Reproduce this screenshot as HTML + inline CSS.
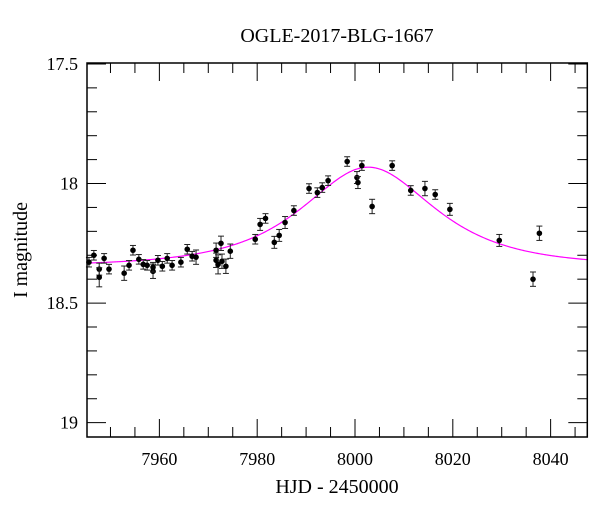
<!DOCTYPE html>
<html><head><meta charset="utf-8"><style>
html,body{margin:0;padding:0;background:#fff;}
svg{display:block;font-family:"Liberation Serif",serif;}
</style></head><body>
<svg id="chart" width="600" height="512" viewBox="0 0 600 512" xmlns="http://www.w3.org/2000/svg">
<text x="337" y="42" font-size="20" text-anchor="middle">OGLE-2017-BLG-1667</text>
<text x="337" y="493" font-size="20" text-anchor="middle">HJD - 2450000</text>
<text transform="translate(27,250) rotate(-90)" font-size="20" text-anchor="middle">I magnitude</text>
<g id="ticks"></g>
<g id="curve"></g>
<g id="points"></g>
<rect x="87" y="63" width="500.3" height="374" fill="none" stroke="#000" stroke-width="1.5"/>
</svg>
<script>
const hjd = [7945.6,7946.6,7947.7,7947.7,7948.7,7949.7,7952.8,7953.8,7954.6,7955.8,7956.7,7957.5,7958.7,7958.7,7959.7,7960.6,7961.6,7962.6,7964.4,7965.7,7966.7,7967.5,7971.6,7971.6,7972.0,7972.6,7972.8,7973.6,7974.5,7979.6,7980.6,7981.7,7983.5,7984.5,7985.7,7987.5,7990.6,7992.3,7993.3,7994.5,7998.4,8000.4,8000.6,8001.4,8003.5,8007.6,8011.4,8014.3,8016.4,8019.4,8029.5,8036.4,8037.7];
const mags = [18.329,18.300,18.358,18.392,18.313,18.358,18.375,18.342,18.279,18.317,18.338,18.342,18.367,18.350,18.321,18.346,18.313,18.342,18.329,18.275,18.304,18.308,18.279,18.321,18.338,18.250,18.325,18.346,18.283,18.233,18.171,18.146,18.246,18.217,18.163,18.113,18.021,18.038,18.017,17.988,17.908,17.975,17.996,17.925,18.096,17.925,18.029,18.021,18.046,18.108,18.238,18.400,18.208];
const errs = [0.02,0.02,0.025,0.04,0.02,0.02,0.03,0.02,0.02,0.02,0.02,0.02,0.03,0.02,0.02,0.02,0.02,0.02,0.02,0.02,0.02,0.03,0.03,0.03,0.04,0.03,0.03,0.03,0.03,0.02,0.025,0.02,0.025,0.025,0.025,0.02,0.02,0.02,0.02,0.02,0.02,0.025,0.025,0.02,0.03,0.02,0.02,0.03,0.02,0.025,0.025,0.03,0.03];
const xTickLabels = ["7960","7980","8000","8020","8040"];
const yTickLabels = ["17.5","18","18.5","19"];
const modelT0 = 8002.7, modelTE = 17.7, modelU0 = 0.86, modelBase = 18.345;

const X0=87, X1=587.3, Y0=63, Y1=437;
const xMin=7945.2, xMax=8047.5, yMin=17.496, yMax=19.06;
const xs = d => X0 + (d-xMin)/(xMax-xMin)*(X1-X0);
const ys = m => Y0 + (m-yMin)/(yMax-yMin)*(Y1-Y0);
const NS="http://www.w3.org/2000/svg";
function mk(tag, attrs, parent){const e=document.createElementNS(NS,tag);for(const k in attrs)e.setAttribute(k,attrs[k]);parent.appendChild(e);return e;}

const tg=document.getElementById('ticks');
for(let d=7950; d<=8045; d+=5){
  const major = d%20===0;
  const L = major?18:10, x=xs(d);
  const t1=mk('line',{x1:x,y1:Y1,x2:x,y2:Y1-L,stroke:'#000','stroke-width':1},tg);
  
  
  const t2=mk('line',{x1:x,y1:Y0,x2:x,y2:Y0+L,stroke:'#000','stroke-width':1},tg);
  
  
}
xTickLabels.forEach(s=>{
  const t=mk('text',{x:xs(+s),y:465,'font-size':18,'text-anchor':'middle'},tg);
  t.textContent=s;
  
  
});
for(let i=0;i<=15;i++){
  const m=17.5+i*0.1, major=i%5===0, L=major?19:10, y=ys(m);
  const t1=mk('line',{x1:X0,y1:y,x2:X0+L,y2:y,stroke:'#000','stroke-width':1},tg);
  
  
  const t2=mk('line',{x1:X1,y1:y,x2:X1-L,y2:y,stroke:'#000','stroke-width':1},tg);
  
  
}
yTickLabels.forEach(s=>{
  const t=mk('text',{x:78,y:ys(+s)+6,'font-size':18,'text-anchor':'end'},tg);
  t.textContent=s;
  
  
});

function model(t){const tau=(t-modelT0)/modelTE;const u=Math.sqrt(modelU0*modelU0+tau*tau);const A=(u*u+2)/(u*Math.sqrt(u*u+4));return modelBase-2.5*Math.log10(A);}
let dstr='';
for(let t=xMin;t<=xMax;t+=0.25){dstr+=(dstr?'L':'M')+xs(t).toFixed(2)+','+ys(model(t)).toFixed(2);}
const cp=mk('path',{d:dstr,fill:'none',stroke:'#ff00ff','stroke-width':1.2},document.getElementById('curve'));



const pg=document.getElementById('points');
hjd.forEach((d,i)=>{
  const x=xs(d), y=ys(mags[i]), ya=ys(mags[i]-errs[i]), yb=ys(mags[i]+errs[i]);
  const g=mk('g',{},pg);
  
  
  mk('line',{x1:x,y1:ya,x2:x,y2:yb,stroke:'#222','stroke-width':1},g);
  mk('line',{x1:x-3,y1:ya,x2:x+3,y2:ya,stroke:'#222','stroke-width':1},g);
  mk('line',{x1:x-3,y1:yb,x2:x+3,y2:yb,stroke:'#222','stroke-width':1},g);
  mk('circle',{cx:x,cy:y,r:2.8,fill:'#000'},g);
});
</script>
</body></html>
